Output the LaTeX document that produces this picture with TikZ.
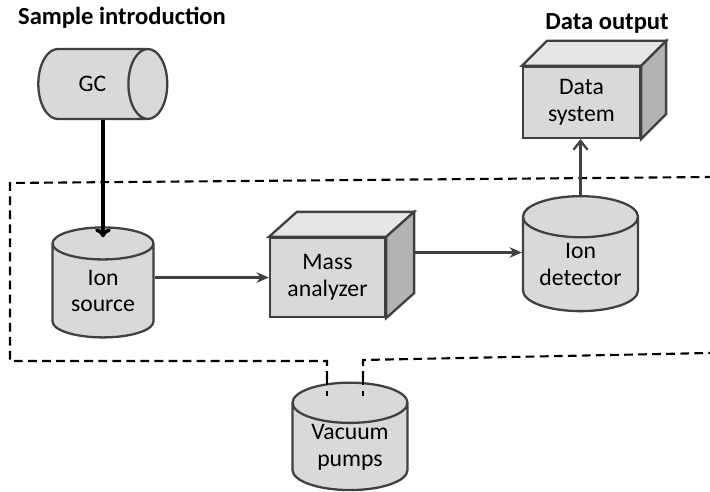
\documentclass[tikz,border=0pt]{standalone}
\usepackage{fontspec}
\setmainfont{Carlito}
\usetikzlibrary{shapes.geometric, arrows.meta}
\definecolor{edge}{HTML}{404040}
\definecolor{body}{HTML}{D9D9D9}
\definecolor{side}{HTML}{B3B3B3}
\definecolor{lid}{HTML}{E6E6E6}

\tikzset{
  unit/.style={draw=edge, fill=body, line width=1.3pt, align=center, font=\fontsize{13.5}{15.3}\selectfont},
  drum/.style={unit, cylinder, shape border rotate=90, aspect=0.5, minimum width=2.3cm, minimum height=2.2cm, inner sep=0pt},
  face/.style={unit, rectangle, inner sep=0pt},
  feed/.style={draw=edge, line width=1.3pt, -{Stealth[length=7pt,width=6pt]}},
  vac/.style={draw=black, line width=1.2pt, dash pattern=on 5pt off 3pt},
  head/.style={font=\fontsize{14}{16}\selectfont\bfseries}
}

\begin{document}
\begin{tikzpicture}[x=0.02cm, y=-0.02cm]
  \useasboundingbox (0,0) rectangle (710,492);

  % vacuum housing
  \draw[vac] (327,380) -- (327,361) -- (10,361) -- (10,183) -- (710,177);
  \draw[vac] (363,380) -- (363,360) -- (710,353);

  % titles
  \node[head] (intro) at (122,18) {Sample introduction};
  \node[head] (out) at (607,23) {Data output};

  % units
  \node[drum, shape border rotate=0, aspect=2.5, minimum width=1.4cm, minimum height=2.58cm] (gc) at (92.5,84) {GC};
  \node[drum, minimum width=2.02cm] (src) at (103,291) {Ion\\source};
  \node[drum, minimum height=2.3cm] (det) at (580.5,264.5) {Ion\\detector};
  \node[drum, aspect=0.52, minimum height=2.08cm] (pump) at (350,447) {Vacuum\\pumps};

  \node[face, minimum width=2.3cm, minimum height=1.58cm] (ma) at (327.5,277.5) {Mass\\analyzer};
  \draw[unit, fill=lid] (ma.north west) -- ++(28,-25) -- ([shift={(28,-25)}]ma.north east) -- (ma.north east) -- cycle;
  \draw[unit, fill=side] (ma.north east) -- ++(28,-25) -- ([shift={(28,-25)}]ma.south east) -- (ma.south east) -- cycle;
  \coordinate (ma-side) at ([shift={(28,-25)}]ma.east);

  \node[face, minimum width=2.34cm, minimum height=1.42cm] (ds) at (581.5,102.5) {Data\\system};
  \draw[unit, fill=lid] (ds.north west) -- ++(25,-25) -- ([shift={(25,-25)}]ds.north east) -- (ds.north east) -- cycle;
  \draw[unit, fill=side] (ds.north east) -- ++(25,-25) -- ([shift={(25,-25)}]ds.south east) -- (ds.south east) -- cycle;

  % pump lines through the lid
  \draw[vac, line width=0.6pt, dash pattern=on 3pt off 3pt] (327,380) -- (327,397);
  \draw[vac, line width=0.6pt, dash pattern=on 3pt off 3pt] (363,380) -- (363,397);

  % flow
  \draw[line width=2pt, -{To[length=5pt,width=9pt]}] (src.north |- gc.south) -- ([yshift=-0.22cm]src.north);
  \draw[feed] (src.east |- ma.west) -- (ma.west);
  \draw[feed] (ma-side) -- (ma-side -| det.west);
  \draw[draw=edge, line width=1.3pt, -{Straight Barb[length=5pt,width=8pt]}] (det.north) -- (det.north |- ds.south);
\end{tikzpicture}
\end{document}
